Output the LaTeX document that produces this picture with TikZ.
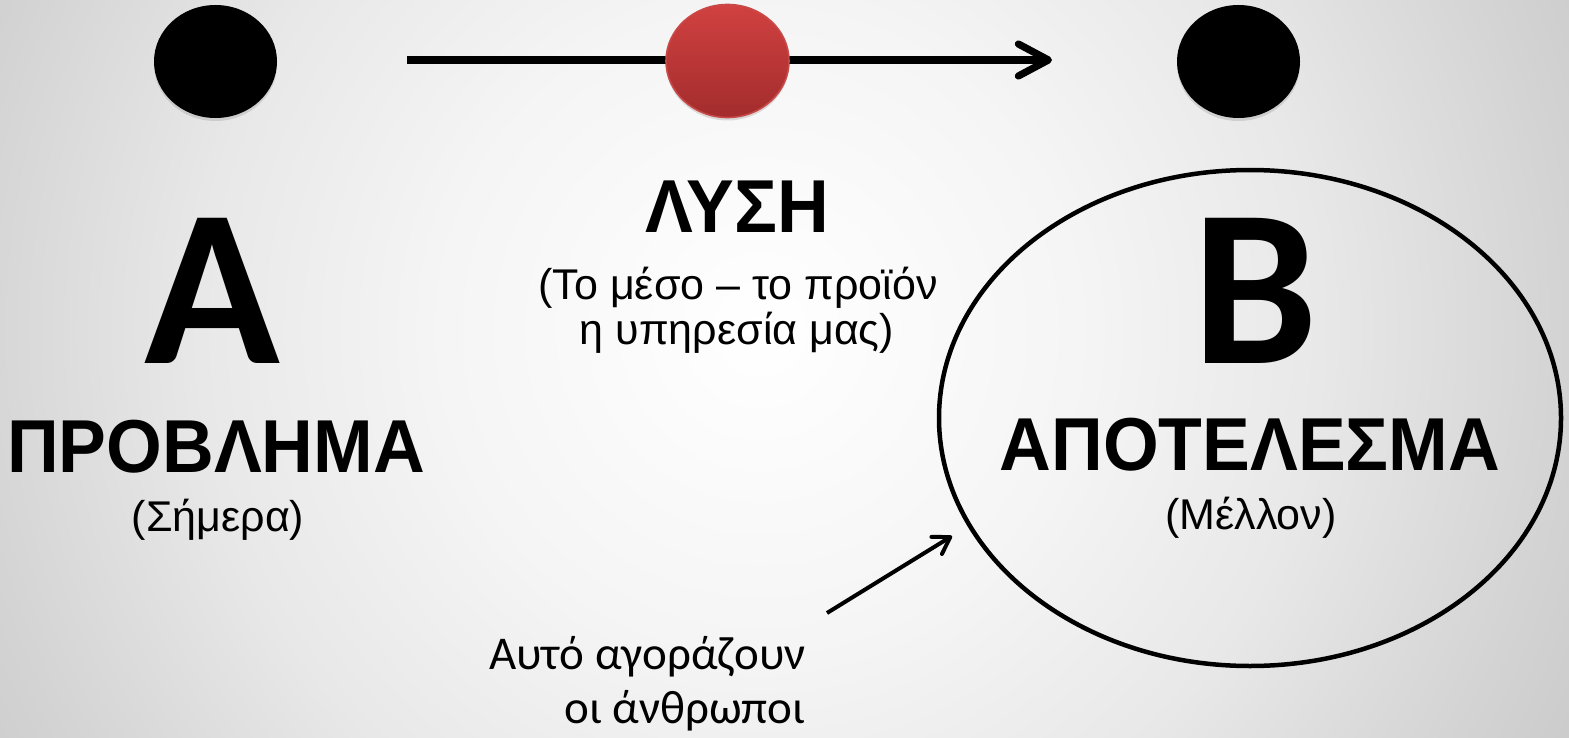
\documentclass[tikz,border=0pt]{standalone}
\usepackage{fontspec}
\setmainfont{Liberation Sans}[BoldFeatures={FakeStretch=0.955}]
\newfontfamily\calfont{Carlito}
\usetikzlibrary{arrows.meta,shapes.geometric,shadows}
\definecolor{redtop}{HTML}{D14141}
\definecolor{redbot}{HTML}{A32C2C}
\definecolor{redline}{HTML}{C94848}
\pgfdeclareradialshading{bgshade}{\pgfpoint{0bp}{0bp}}{%
  color(0bp)=(white);
  color(8bp)=(white!96!black);
  color(14bp)=(white!91!black);
  color(20bp)=(white!83!black);
  color(25bp)=(white!77!black);
  color(50bp)=(white!77!black)}
\tikzset{
  dot/.style={ellipse, minimum width=61.5pt, minimum height=56.5pt, inner sep=0pt,
    drop shadow={opacity=0.25, shadow xshift=0pt, shadow yshift=-1.5pt}},
  blackdot/.style={dot, fill=black},
  reddot/.style={dot, top color=redtop, bottom color=redbot, draw=redline, line width=0.8pt},
  bigletter/.style={anchor=base, inner sep=0pt, font=\calfont\bfseries\fontsize{112}{112}\selectfont},
  heading/.style={anchor=base, inner sep=0pt, font=\bfseries\fontsize{37.5}{40}\selectfont},
  sub/.style={anchor=base, inner sep=0pt, font=\fontsize{21.5}{22.5}\selectfont},
  note/.style={anchor=base east, inner sep=0pt, align=right, font=\calfont\fontsize{23.5}{27}\selectfont},
  mainarrow/.style={line width=3.6pt, -{Straight Barb[length=15pt,width=16pt,round]}},
  smallarrow/.style={line width=2pt, -{Straight Barb[length=8pt,width=10pt,round]}},
  result/.style={ellipse, draw=black, line width=2.25pt, minimum width=311pt, minimum height=248pt, inner sep=0pt}
}
\begin{document}
\begin{tikzpicture}[x=0.5pt, y=-0.5pt]
\useasboundingbox (0,0) rectangle (1569,738);
\begin{scope}
  \clip (0,0) rectangle (1569,738);
  \shade[shading=bgshade] (-240,-670) rectangle (1760,1330);
\end{scope}
% result ellipse
\node[result] (res) at (1250,418) {};
% main arrow
\coordinate (as) at (407,60);
\coordinate (ae) at (1052,60);
\draw[mainarrow] (as) -- (ae);
% dots
\node[blackdot] (dA) at (215.5,61.5) {};
\node[reddot] (dS) at (727.5,61) {};
\node[blackdot] (dB) at (1238.5,61.5) {};
% left column
\node[bigletter] (A) at (212,363) {Α};
\node[heading] (prob) at (216,472) {ΠΡΟΒΛΗΜΑ};
\node[sub] (today) at (218,531) {(Σήμερα)};
% middle column
\node[heading] (sol) at (737,232) {ΛΥΣΗ};
\node[sub] (sol1) at (738,299) {(Το μέσο – το προϊόν};
\node[sub] (sol2) at (737,344) {η υπηρεσία μας)};
% right column
\node[bigletter] (B) at (1255,363) {Β};
\node[heading] (res1) at (1250,470) {ΑΠΟΤΕΛΕΣΜΑ};
\node[sub] (fut) at (1251,529) {(Μέλλον)};
% note
\node[note] (buy) at (806,723) {Αυτό αγοράζουν\\οι άνθρωποι};
\coordinate (ns) at (827,613);
\coordinate (ne) at (952,536);
\draw[smallarrow] (ns) -- (ne);
\end{tikzpicture}
\end{document}
